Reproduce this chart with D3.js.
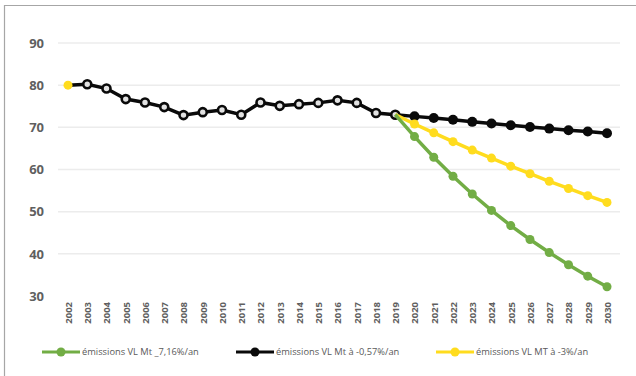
<!DOCTYPE html>
<html>
<head>
<meta charset="utf-8">
<script src="https://cdn.jsdelivr.net/npm/d3@7"></script>
<style>
  html, body { margin: 0; padding: 0; background: #fff; }
  svg { display: block; font-family: "Open Sans", "Liberation Sans", sans-serif; }
</style>
</head>
<body>
<svg id="chart" width="636" height="376"></svg>
<script>
// Years on the x axis
const years = d3.range(2002, 2031);

// Observed emissions (Mt), 2002–2019
const historique = [80.0, 80.2, 79.2, 76.7, 75.9, 74.8, 72.9, 73.6, 74.1, 73.0,
                    75.9, 75.1, 75.5, 75.8, 76.4, 75.8, 73.4, 73.0];

// Trajectories 2019–2030
const projYears = d3.range(2019, 2031);
const vertValues  = [73.0, 67.8, 62.9, 58.4, 54.2, 50.3, 46.7, 43.4, 40.3, 37.4, 34.7, 32.2];
const noirValues  = [73.0, 72.6, 72.2, 71.8, 71.3, 70.9, 70.5, 70.1, 69.7, 69.3, 69.0, 68.6];
const jauneValues = [73.0, 70.8, 68.7, 66.6, 64.6, 62.7, 60.8, 59.0, 57.2, 55.5, 53.8, 52.2];

const yTicks = [30, 40, 50, 60, 70, 80, 90];
const legendLabels = [
  "émissions VL Mt _7,16%/an",
  "émissions VL Mt à -0,57%/an",
  "émissions VL MT à -3%/an"
];
const colors = { vert: "#72ad45", noir: "#0a0a0a", jaune: "#ffdc1e" };

const svg = d3.select("#chart");

// outer frame
svg.append("path")
  .attr("d", "M4.5,380 V5.5 H640")
  .attr("fill", "none").attr("stroke", "#a6a6a6").attr("stroke-width", 1.2);

const x = d3.scaleLinear().domain([2002, 2030]).range([68, 607]);
const y = d3.scaleLinear().domain([30, 90]).range([296, 43]);

// gridlines
svg.append("g").selectAll("line").data(yTicks.filter(t => t > 30)).join("line")
  .attr("x1", 58).attr("x2", 620)
  .attr("y1", d => y(d)).attr("y2", d => y(d))
  .attr("stroke", "#ececec").attr("stroke-width", 1.5);

// y axis labels
const yAxis = d3.axisLeft(y).tickValues(yTicks).tickSize(0).tickPadding(0);
svg.append("g").attr("transform", "translate(44,0)").call(yAxis)
  .call(g => g.select(".domain").remove())
  .selectAll("text")
  .attr("font-size", 13).attr("font-weight", "bold").attr("fill", "#5f5f5f")
  .attr("font-family", "'Open Sans', sans-serif");

// x axis labels (rotated)
const xAxis = d3.axisBottom(x).tickValues(years).tickFormat(d3.format("d")).tickSize(0);
svg.append("g").attr("transform", "translate(0,302)").call(xAxis)
  .call(g => g.select(".domain").remove())
  .selectAll("text")
  .attr("transform", "rotate(-90)")
  .attr("text-anchor", "end")
  .attr("x", 0).attr("y", 0).attr("dx", "0").attr("dy", "0.35em")
  .attr("font-size", 9.5).attr("font-weight", "bold").attr("fill", "#5f5f5f")
  .attr("font-family", "'Open Sans', sans-serif");

const line = d3.line().x(d => x(d.year)).y(d => y(d.value));

const hist = historique.map((v, i) => ({ year: 2002 + i, value: v }));
const proj = vals => vals.map((v, i) => ({ year: projYears[i], value: v }));

// black: observed + -0.57%/an
svg.append("path").datum(hist.concat(proj(noirValues).slice(1)))
  .attr("d", line).attr("fill", "none")
  .attr("stroke", colors.noir).attr("stroke-width", 3.5);
svg.append("g").selectAll("circle").data(proj(noirValues).slice(1)).join("circle")
  .attr("cx", d => x(d.year)).attr("cy", d => y(d.value)).attr("r", 5)
  .attr("fill", colors.noir);
svg.append("g").selectAll("circle").data(hist.slice(1)).join("circle")
  .attr("cx", d => x(d.year)).attr("cy", d => y(d.value)).attr("r", 4)
  .attr("fill", "#e2e2e2").attr("stroke", colors.noir).attr("stroke-width", 2.6);

// yellow: -3%/an
svg.append("path").datum(proj(jauneValues))
  .attr("d", line).attr("fill", "none")
  .attr("stroke", colors.jaune).attr("stroke-width", 3.5);
svg.append("g").selectAll("circle").data([hist[0]].concat(proj(jauneValues).slice(1))).join("circle")
  .attr("cx", d => x(d.year)).attr("cy", d => y(d.value)).attr("r", 4.5)
  .attr("fill", colors.jaune);

// green: -7.16%/an
svg.append("path").datum(proj(vertValues))
  .attr("d", line).attr("fill", "none")
  .attr("stroke", colors.vert).attr("stroke-width", 3.5);
svg.append("g").selectAll("circle").data(proj(vertValues).slice(1)).join("circle")
  .attr("cx", d => x(d.year)).attr("cy", d => y(d.value)).attr("r", 4.5)
  .attr("fill", colors.vert);

// legend
const legendItems = [
  { label: legendLabels[0], color: colors.vert, x0: 42 },
  { label: legendLabels[1], color: colors.noir, x0: 236 },
  { label: legendLabels[2], color: colors.jaune, x0: 436 }
];
const lg = svg.append("g").selectAll("g").data(legendItems).join("g")
  .attr("transform", d => `translate(${d.x0},352)`);
lg.append("line").attr("x1", 0).attr("x2", 38).attr("y1", 0).attr("y2", 0)
  .attr("stroke", d => d.color).attr("stroke-width", 2.8);
lg.append("circle").attr("cx", 19).attr("cy", 0).attr("r", 4.5).attr("fill", d => d.color);
lg.append("text").attr("x", 40).attr("y", 0).attr("dy", "0.35em")
  .attr("font-size", 9.3).attr("fill", "#595959")
  .text(d => d.label);
</script>
</body>
</html>
